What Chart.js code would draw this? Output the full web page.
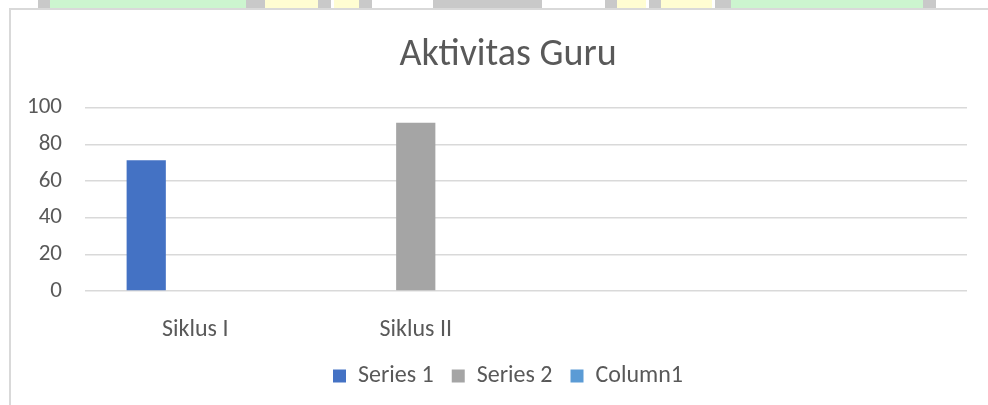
<!DOCTYPE html>
<html>
<head>
<meta charset="utf-8">
<script src="https://cdn.jsdelivr.net/npm/chart.js@4"></script>
<style>
  html, body { margin: 0; padding: 0; background: #fff; }
  #page { position: relative; width: 988px; height: 405px; overflow: hidden; }
  .strip { position: absolute; top: 0; height: 9px; }
  .green { background: #ccf5cf; }
  .yellow { background: #fffdd2; }
  .gray { background: #c9c9c9; }
  #frameTop { position: absolute; left: 9px; top: 8px; width: 979px; height: 2px; background: #d9d9d9; }
  #frameLeft { position: absolute; left: 9px; top: 8px; width: 2px; height: 397px; background: #d9d9d9; }
  #chartBox { position: absolute; left: 0; top: 0; width: 988px; height: 405px; }
</style>
</head>
<body>
<div id="page">
  <!-- watermark strip above the chart frame -->
  <div class="strip gray" style="left:38px;width:12px"></div>
  <div class="strip green" style="left:50px;width:196px"></div>
  <div class="strip gray" style="left:246px;width:19px"></div>
  <div class="strip yellow" style="left:265px;width:53px"></div>
  <div class="strip gray" style="left:318px;width:13px"></div>
  <div class="strip yellow" style="left:334px;width:25px"></div>
  <div class="strip gray" style="left:359px;width:13px"></div>
  <div class="strip gray" style="left:433px;width:109px"></div>
  <div class="strip gray" style="left:605px;width:12px"></div>
  <div class="strip yellow" style="left:617px;width:29px"></div>
  <div class="strip gray" style="left:649px;width:12px"></div>
  <div class="strip yellow" style="left:661px;width:51px"></div>
  <div class="strip gray" style="left:715px;width:16px"></div>
  <div class="strip green" style="left:731px;width:192px"></div>
  <div class="strip gray" style="left:923px;width:13px"></div>
  <div id="frameTop"></div>
  <div id="frameLeft"></div>
  <div id="chartBox"><canvas id="guruChart" width="988" height="405"></canvas></div>
</div>
<script>
// data
const categories = ['Siklus I', 'Siklus II', '', ''];
const series1 = [71.3, null, null, null];
const series2 = [null, 91.7, null, null];
const column1 = [null, null, null, null];
const yTicks = [0, 20, 40, 60, 80, 100];

const fontFamily = "Carlito, Calibri, Lato, 'Open Sans', sans-serif";
const textColor = '#595959';
const gridColor = '#d9d9d9';

// y axis box is kept narrow so title/legend centre like the original;
// widen its label clip area back out after layout
const widenYLabels = {
    id: 'widenYLabels',
    afterLayout(chart) {
        chart.scales.y.left = 5;
    }
};

const ctx = document.getElementById('guruChart').getContext('2d');
new Chart(ctx, {
    type: 'bar',
    data: {
        labels: categories,
        datasets: [
            { label: 'Series 1', data: series1, backgroundColor: '#4472c4' },
            { label: 'Series 2', data: series2, backgroundColor: '#a5a5a5' },
            { label: 'Column1', data: column1, backgroundColor: '#5b9bd5' }
        ]
    },
    plugins: [widenYLabels],
    options: {
        responsive: false,
        animation: false,
        devicePixelRatio: 1,
        layout: { padding: { top: 10, left: 49, right: 21, bottom: 7 } },
        datasets: { bar: { categoryPercentage: 0.667, barPercentage: 0.8 } },
        plugins: {
            title: {
                display: true,
                text: 'Aktivitas Guru',
                color: textColor,
                font: { family: fontFamily, size: 38, weight: 'normal', lineHeight: 1.2 },
                padding: { top: 23, bottom: 29 }
            },
            legend: {
                position: 'bottom',
                labels: {
                    color: textColor,
                    font: { family: fontFamily, size: 24, lineHeight: 1.2 },
                    boxWidth: 13,
                    boxHeight: 13,
                    padding: 18
                }
            },
            tooltip: { enabled: false }
        },
        scales: {
            x: {
                grid: { display: false },
                border: { display: false },
                ticks: {
                    color: textColor,
                    font: { family: fontFamily, size: 24, lineHeight: 1.2 },
                    padding: 17,
                    maxRotation: 0
                },
                afterFit: scale => { scale.height = 55; }
            },
            y: {
                min: 0,
                max: 100,
                afterBuildTicks: scale => { scale.ticks = yTicks.map(v => ({ value: v })); },
                grid: { color: gridColor, lineWidth: 1.5, drawTicks: false },
                border: { display: false },
                ticks: {
                    color: textColor,
                    font: { family: fontFamily, size: 23, lineHeight: 1.2 },
                    padding: 23
                },
                afterFit: scale => { scale.width = 36; }
            }
        }
    }
});
</script>
</body>
</html>
